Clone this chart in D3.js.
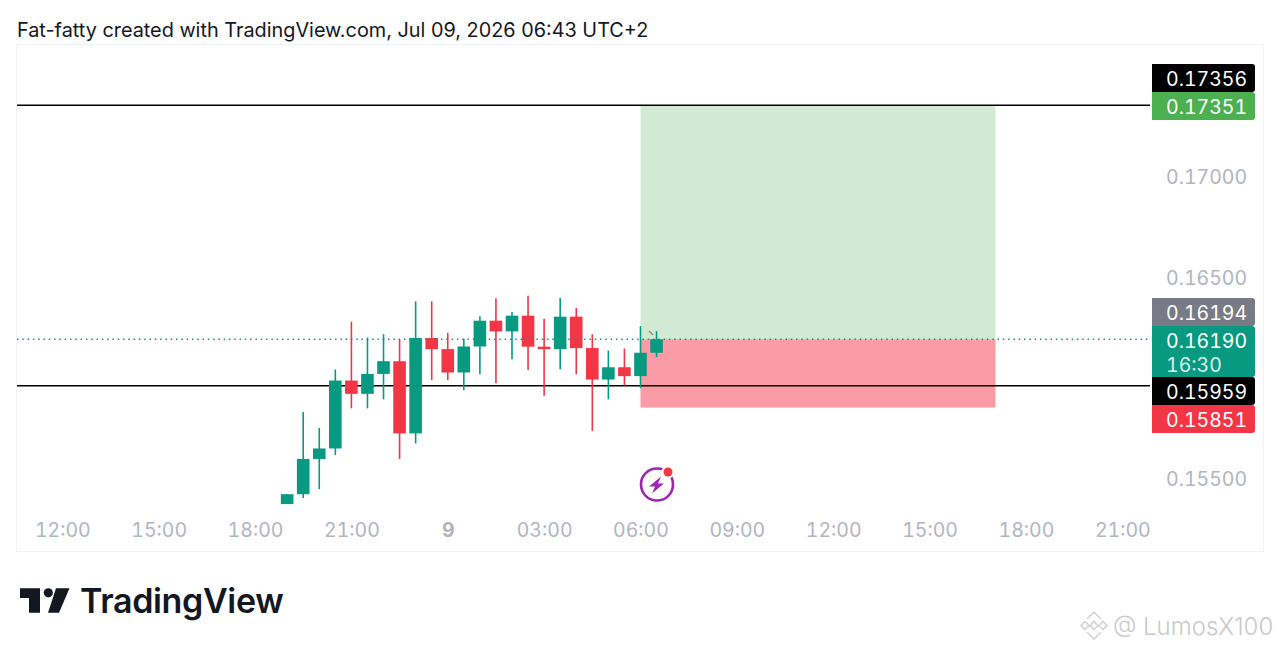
<!DOCTYPE html>
<html>
<head>
<meta charset="utf-8">
<script src="https://cdn.jsdelivr.net/npm/d3@7"></script>
<style>
  html, body { margin: 0; padding: 0; background: #fff; overflow: hidden; }
  text { font-family: "Inter", "Liberation Sans", sans-serif; }
  .num { font-variant-numeric: tabular-nums; font-feature-settings: "tnum" 1; }
</style>
</head>
<body>
<svg id="chart" width="1280" height="651"></svg>
<script>
const times = ["08 19:00","08 19:30","08 20:00","08 20:30","08 21:00","08 21:30","08 22:00","08 22:30",
  "08 23:00","08 23:30","09 00:00","09 00:30","09 01:00","09 01:30","09 02:00","09 02:30",
  "09 03:00","09 03:30","09 04:00","09 04:30","09 05:00","09 05:30","09 06:00","09 06:30"];
const opens = [.15372,.15421,.15596,.15648,.15985,.15919,.16018,.16081,.15723,.16196,.16141,.16025,
  .16154,.16282,.16229,.16307,.16153,.16141,.16302,.16146,.15990,.16051,.16007,.16123];
const closes = [.15421,.15596,.15648,.15985,.15919,.16018,.16081,.15723,.16196,.16141,.16025,.16154,
  .16282,.16229,.16307,.16153,.16141,.16302,.16146,.15990,.16051,.16007,.16123,.16190];
const highs = [.15421,.15829,.15750,.16040,.16277,.16198,.16215,.16189,.16378,.16378,.16222,.16193,
  .16304,.16393,.16325,.16406,.16292,.16395,.16345,.16215,.16134,.16144,.16255,.16230];
const lows = [.15372,.15402,.15446,.15615,.15847,.15847,.15892,.15596,.15673,.15987,.15987,.15937,
  .16016,.15972,.16091,.16038,.15910,.16041,.16016,.15735,.15892,.15960,.15947,.16101];

const timeTicks = ["08 12:00","08 15:00","08 18:00","08 21:00","09 00:00","09 03:00","09 06:00",
  "09 09:00","09 12:00","09 15:00","09 18:00","09 21:00"];
const priceTicks = [0.17, 0.165, 0.155];

const targetPrice = 0.17351, entryPrice = 0.16190, stopPrice = 0.15851, linePrice = 0.15959;
const boxStart = "09 06:00", boxEnd = "09 17:03";

const tagLabels = [["0.17356"],["0.17351"],["0.16194"],["0.16190","16:30"],["0.15959"],["0.15851"]];
const tagColors = ["#000000","#4caf50","#787b86","#089981","#000000","#f23645"];
const tagTops = [64, 92, 298, 326, 377, 405];
const tagBottoms = [92, 120, 326, 377, 405, 433];

const green = "#089981", red = "#f23645";
const parseT = d3.utcParse("%d %H:%M");
const svg = d3.select("#chart");

// panel
svg.append("rect").attr("x", 16.5).attr("y", 44.5).attr("width", 1247).attr("height", 507)
  .attr("fill", "#fff").attr("stroke", "#f0f3fa");

svg.append("text").attr("x", 17).attr("y", 37).attr("font-size", 19.85).attr("fill", "#131722")
  .text("Fat-fatty created with TradingView.com, Jul 09, 2026 06:43 UTC+2");

const x = d3.scaleUtc().domain([parseT("08 12:00"), parseT("09 21:00")]).range([62.3, 1122.3]);
const y = d3.scaleLinear().domain([0.17, 0.155]).range([176, 478.3]);

// long position box
svg.append("rect").attr("x", x(parseT(boxStart))).attr("y", y(targetPrice))
  .attr("width", x(parseT(boxEnd)) - x(parseT(boxStart))).attr("height", y(entryPrice) - y(targetPrice))
  .attr("fill", "#d2ead3");
svg.append("rect").attr("x", x(parseT(boxStart))).attr("y", y(entryPrice))
  .attr("width", x(parseT(boxEnd)) - x(parseT(boxStart))).attr("height", y(stopPrice) - y(entryPrice))
  .attr("fill", "#fb9ba5");

// horizontal lines
svg.selectAll("line.level").data([targetPrice, linePrice]).join("line").attr("class", "level")
  .attr("x1", 17).attr("x2", 1150).attr("y1", d => y(d)).attr("y2", d => y(d))
  .attr("stroke", "#000").attr("stroke-width", 1.6);

// candles
const candles = times.map((t, i) => ({ t: parseT(t), o: opens[i], c: closes[i], h: highs[i], l: lows[i] }));
const cg = svg.append("g");
cg.selectAll("line").data(candles).join("line")
  .attr("x1", d => x(d.t)).attr("x2", d => x(d.t))
  .attr("y1", d => y(d.h)).attr("y2", d => y(d.l))
  .attr("stroke", d => d.c >= d.o ? green : red).attr("stroke-width", 1.6);
cg.selectAll("rect").data(candles).join("rect")
  .attr("x", d => x(d.t) - 6.3).attr("width", 12.6)
  .attr("y", d => y(Math.max(d.o, d.c)))
  .attr("height", d => Math.abs(y(d.o) - y(d.c)))
  .attr("fill", d => d.c >= d.o ? green : red);

// last price dotted line
svg.append("line").attr("x1", 17).attr("x2", 1150).attr("y1", y(entryPrice)).attr("y2", y(entryPrice))
  .attr("stroke", green).attr("stroke-width", 1.4).attr("stroke-dasharray", "1.5 3.8");

// small cursor tick on last candle
svg.append("line").attr("x1", 649).attr("y1", 331).attr("x2", 653).attr("y2", 335)
  .attr("stroke", "#6f8f80").attr("stroke-width", 1.2);

// axes
const xAxis = d3.axisBottom(x).tickValues(timeTicks.map(parseT)).tickSize(0)
  .tickFormat(d => d.getUTCHours() === 0 ? "9" : d3.utcFormat("%H:%M")(d));
const gx = svg.append("g").attr("transform", "translate(0,523)").call(xAxis);
gx.select(".domain").remove();
gx.selectAll("text").attr("class", "num").attr("font-size", 19.5).attr("fill", "#b2b5be").attr("y", 0).attr("dy", "0.72em")
  .attr("font-family", "Inter")
  .attr("font-weight", d => d.getUTCHours() === 0 ? 700 : 400);

const yAxis = d3.axisRight(y).tickValues(priceTicks).tickSize(0).tickFormat(d3.format(".5f"));
const gy = svg.append("g").attr("transform", "translate(1166,1)").call(yAxis);
gy.select(".domain").remove();
gy.selectAll("text").attr("class", "num").attr("font-size", 19.5).attr("fill", "#b2b5be").attr("x", 0).attr("font-family", "Inter");

// price tags
tagLabels.forEach((lines, i) => {
  const top = tagTops[i], bot = tagBottoms[i];
  svg.append("path").attr("fill", tagColors[i])
    .attr("d", `M1152,${top}H1252a3,3 0 0 1 3,3V${bot - 3}a3,3 0 0 1 -3,3H1152Z`);
  lines.forEach((s, j) => {
    svg.append("text").attr("class", "num").attr("x", 1166).attr("y", top + 21.5 + j * 24)
      .attr("font-size", 19.5).attr("fill", "#fff").attr("opacity", j ? 0.85 : 1).text(s);
  });
});

// lightning badge
const badge = svg.append("g").attr("transform", "translate(657,484.5)");
badge.append("circle").attr("r", 16).attr("fill", "none").attr("stroke", "#9c27b0").attr("stroke-width", 2.6);
badge.append("path").attr("fill", "#9c27b0").attr("d", "M4,-8L-8,2H-2L-5,9L7,-1H1Z");
badge.append("circle").attr("cx", 11).attr("cy", -12.5).attr("r", 6.5).attr("fill", "#fff");
badge.append("circle").attr("cx", 11).attr("cy", -12.5).attr("r", 4.5).attr("fill", red);

// TradingView logo
const logo = svg.append("g").attr("fill", "#131722");
logo.append("path").attr("d", "M20,588.3H40V612.7H29V598H20Z");
logo.append("circle").attr("cx", 48.3).attr("cy", 592.8).attr("r", 4.6);
logo.append("path").attr("d", "M56,588.3H69.5L59,612.7H48Z");
logo.append("text").attr("x", 80).attr("y", 612.5).attr("font-size", 34).attr("font-weight", 600)
  .attr("letter-spacing", -0.35).text("TradingView");

// watermark
const wm = svg.append("g").attr("fill", "none").attr("stroke", "#d4d4d4").attr("stroke-width", 1.6);
wm.append("path").attr("d", "M1094,612L1101,619M1094,612L1087,619M1081,625.5L1085,621.5L1089,625.5L1085,629.5ZM1099,625.5L1103,621.5L1107,625.5L1103,629.5ZM1087,632L1094,639L1101,632M1090,625.5L1094,621.5L1098,625.5L1094,629.5Z");
svg.append("text").attr("x", 1113).attr("y", 635).attr("font-size", 24).attr("font-weight", 300)
  .attr("fill", "#c9c9c9").attr("font-family", "Lato").text("@ LumosX100");
</script>
</body>
</html>
